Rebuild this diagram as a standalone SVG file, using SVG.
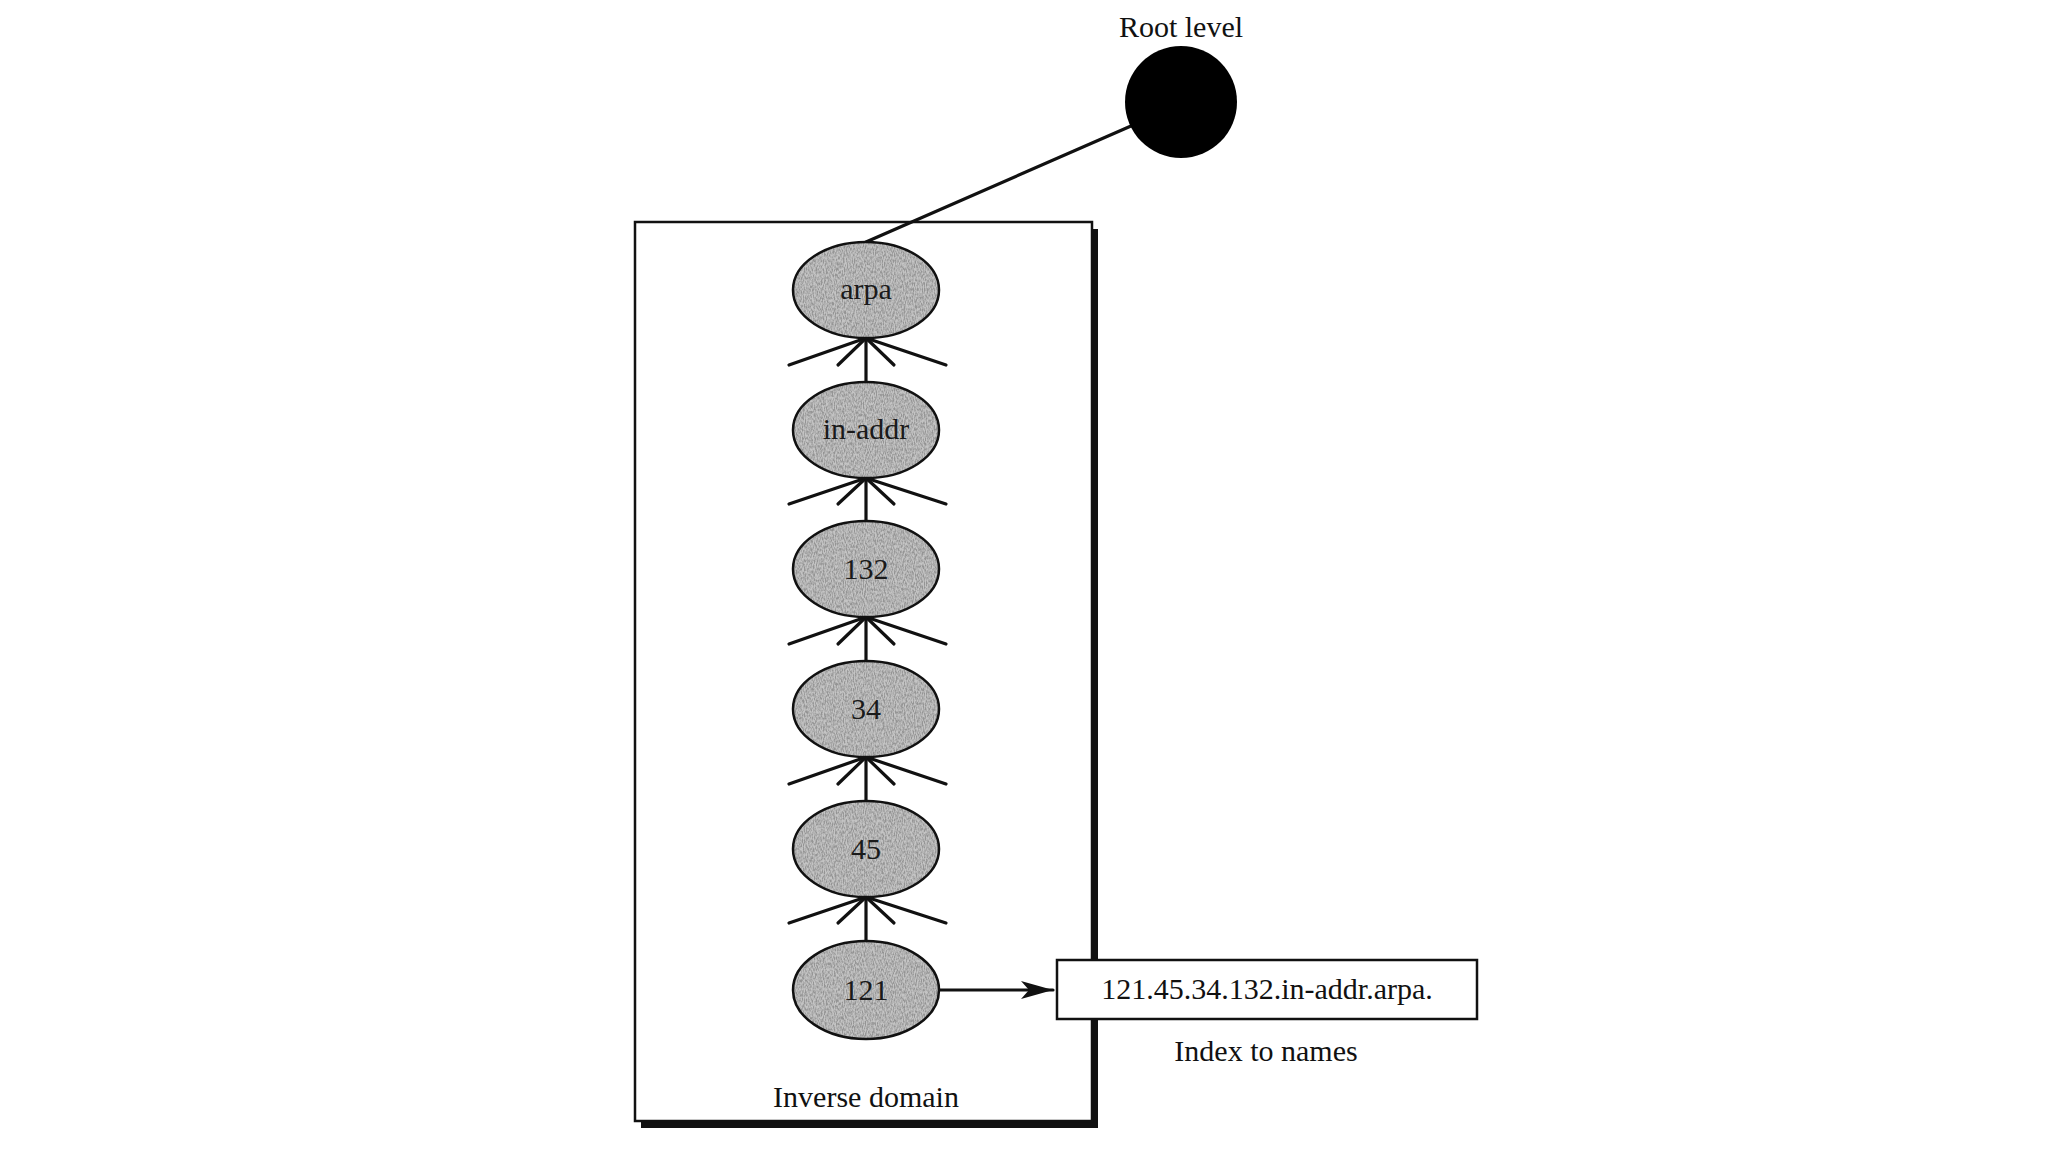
<svg xmlns="http://www.w3.org/2000/svg" width="2048" height="1152" viewBox="0 0 2048 1152">
<style>
.t{font-family:"Liberation Serif","Times New Roman",serif;font-size:30px;fill:#111;text-anchor:middle}
.lbl{font-family:"Liberation Serif","Times New Roman",serif;font-size:30px;fill:#1a1a1a;text-anchor:middle}
.ln{stroke:#111;stroke-width:3.2;fill:none;stroke-linecap:round}
.ell{stroke:#111;stroke-width:2.5;fill:none}
.tex{filter:url(#grain)}
</style>
<defs>
<filter id="grain" x="0" y="0" width="100%" height="100%">
<feTurbulence type="fractalNoise" baseFrequency="0.9 0.35" numOctaves="2" seed="3" result="n"/>
<feColorMatrix in="n" type="matrix" values="0 0 0 0 0.3  0 0 0 0 0.3  0 0 0 0 0.3  0 0 0 -2.6 1.75" result="d"/>
<feFlood flood-color="#c4c4c4" result="bg"/>
<feComposite in="d" in2="bg" operator="over" result="m"/>
<feComposite in="m" in2="SourceGraphic" operator="in"/>
</filter>
<marker id="arr" markerWidth="34" markerHeight="20" refX="32" refY="10" orient="auto" markerUnits="userSpaceOnUse">
<path d="M0,1 L32,10 L0,19 L8,10 Z" fill="#111"/>
</marker>
</defs>
<rect width="2048" height="1152" fill="#fff"/>

<g id="inverse-domain-box">
<path d="M1095,229 V1125 H641" stroke="#111" stroke-width="6" fill="none"/>
<rect x="635" y="222" width="457" height="899" fill="none" stroke="#111" stroke-width="2.5"/>
<text class="t" x="866" y="1107">Inverse domain</text>
</g>

<g id="connectors">
<line class="ln" x1="1131" y1="126" x2="866" y2="242"/>
<g id="fan-arpa">
<line class="ln" x1="866" y1="338" x2="789" y2="365"/><line class="ln" x1="866" y1="338" x2="838" y2="365"/><line class="ln" x1="866" y1="338" x2="894" y2="365"/><line class="ln" x1="866" y1="338" x2="946" y2="365"/>
<line class="ln" x1="866" y1="338" x2="866" y2="382" stroke-width="3.5"/>
</g>
<g id="fan-inaddr">
<line class="ln" x1="866" y1="478" x2="789" y2="504"/><line class="ln" x1="866" y1="478" x2="838" y2="504"/><line class="ln" x1="866" y1="478" x2="894" y2="504"/><line class="ln" x1="866" y1="478" x2="946" y2="504"/>
<line class="ln" x1="866" y1="478" x2="866" y2="521" stroke-width="3.5"/>
</g>
<g id="fan-132">
<line class="ln" x1="866" y1="617" x2="789" y2="644"/><line class="ln" x1="866" y1="617" x2="838" y2="644"/><line class="ln" x1="866" y1="617" x2="894" y2="644"/><line class="ln" x1="866" y1="617" x2="946" y2="644"/>
<line class="ln" x1="866" y1="617" x2="866" y2="661" stroke-width="3.5"/>
</g>
<g id="fan-34">
<line class="ln" x1="866" y1="757" x2="789" y2="784"/><line class="ln" x1="866" y1="757" x2="838" y2="784"/><line class="ln" x1="866" y1="757" x2="894" y2="784"/><line class="ln" x1="866" y1="757" x2="946" y2="784"/>
<line class="ln" x1="866" y1="757" x2="866" y2="801" stroke-width="3.5"/>
</g>
<g id="fan-45">
<line class="ln" x1="866" y1="897" x2="789" y2="923"/><line class="ln" x1="866" y1="897" x2="838" y2="923"/><line class="ln" x1="866" y1="897" x2="894" y2="923"/><line class="ln" x1="866" y1="897" x2="946" y2="923"/>
<line class="ln" x1="866" y1="897" x2="866" y2="942" stroke-width="3.5"/>
</g>
<line class="ln" x1="940" y1="990" x2="1053" y2="990" marker-end="url(#arr)"/>
</g>

<g id="root">
<text class="t" x="1181" y="37">Root level</text>
<circle cx="1181" cy="102" r="56" fill="#000"/>
</g>

<g id="node-arpa">
<ellipse class="tex" cx="866" cy="290" rx="73" ry="48" fill="#000"/>
<ellipse class="ell" cx="866" cy="290" rx="73" ry="48"/>
<text class="lbl" x="866" y="299">arpa</text>
</g>
<g id="node-in-addr">
<ellipse class="tex" cx="866" cy="430" rx="73" ry="48" fill="#000"/>
<ellipse class="ell" cx="866" cy="430" rx="73" ry="48"/>
<text class="lbl" x="866" y="439">in-addr</text>
</g>
<g id="node-132">
<ellipse class="tex" cx="866" cy="569" rx="73" ry="48" fill="#000"/>
<ellipse class="ell" cx="866" cy="569" rx="73" ry="48"/>
<text class="lbl" x="866" y="579">132</text>
</g>
<g id="node-34">
<ellipse class="tex" cx="866" cy="709" rx="73" ry="48" fill="#000"/>
<ellipse class="ell" cx="866" cy="709" rx="73" ry="48"/>
<text class="lbl" x="866" y="719">34</text>
</g>
<g id="node-45">
<ellipse class="tex" cx="866" cy="849" rx="73" ry="48" fill="#000"/>
<ellipse class="ell" cx="866" cy="849" rx="73" ry="48"/>
<text class="lbl" x="866" y="859">45</text>
</g>
<g id="node-121">
<ellipse class="tex" cx="866" cy="990" rx="73" ry="49" fill="#000"/>
<ellipse class="ell" cx="866" cy="990" rx="73" ry="49"/>
<text class="lbl" x="866" y="1000">121</text>
</g>

<g id="name-box">
<rect x="1057" y="960" width="420" height="59" fill="#fff" stroke="#111" stroke-width="2.5"/>
<text class="t" x="1267" y="999">121.45.34.132.in-addr.arpa.</text>
<text class="t" x="1266" y="1061">Index to names</text>
</g>
</svg>
